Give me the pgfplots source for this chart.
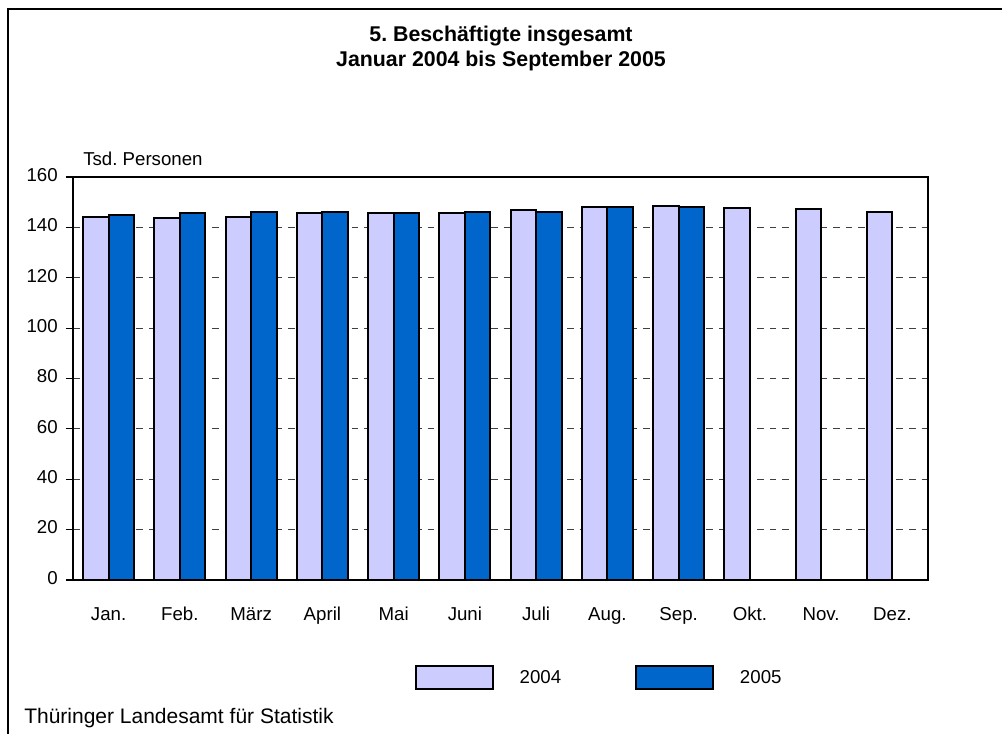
\documentclass[border=0pt]{standalone}
\usepackage{pgfplots}
\pgfplotsset{compat=1.18}
\usepackage{pgfplotstable}
\usepackage{fontspec}
\setmainfont{Liberation Sans}
\frenchspacing
\definecolor{c2004}{HTML}{CCCCFF}
\definecolor{c2005}{HTML}{0066CC}
\pgfplotstableread{
x v2004 v2005
0  144.2 144.9
1  143.6 145.6
2  144.0 146.1
3  145.7 146.0
4  145.8 145.7
5  145.7 146.0
6  147.0 146.2
7  148.2 148.1
8  148.6 147.9
}\dataA
\pgfplotstableread{
x v2004
9  147.5
10 147.3
11 146.2
}\dataB
\begin{document}
\begin{tikzpicture}[x=0.75pt,y=0.75pt]
\path[use as bounding box] (0,0) rectangle (1002,734);
\draw[line width=1pt] (8,0) -- (8,725) -- (1002,725);
\node[anchor=base,inner sep=0pt,font=\bfseries\fontsize{16}{18}\selectfont] at (501,692) {5. Beschäftigte insgesamt};
\node[anchor=base,inner sep=0pt,font=\bfseries\fontsize{16}{18}\selectfont] at (501,667) {Januar 2004 bis September 2005};
\node[anchor=base west,inner sep=0pt,font=\fontsize{15.75}{18}\selectfont] at (24,10) {Thüringer Landesamt für Statistik};
\node[anchor=base west,inner sep=0pt,font=\fontsize{14}{16}\selectfont] at (83,568) {Tsd. Personen};
\begin{axis}[
  at={(54.75pt,115.5pt)}, anchor=south west,
  width=641.25pt, height=302.25pt, scale only axis,
  xmin=-0.5, xmax=11.5, ymin=0, ymax=160,
  ytick={0,20,...,160},
  xtick={0,...,11},
  xticklabels={Jan.,Feb.,März,April,Mai,Juni,Juli,Aug.,Sep.,Okt.,Nov.,Dez.},
  x tick style={draw=none},
  ytick pos=left,
  major tick length=5.25pt,
  tick align=outside,
  y tick style={black, line width=0.8pt},
  ymajorgrids,
  major grid style={black!75, line width=0.6pt, dash pattern=on 5pt off 4.5pt},
  axis line style={line width=1.2pt},
  ticklabel style={font=\fontsize{14}{16}\selectfont},
  /pgf/number format/assume math mode=true,
  yticklabel style={inner sep=0pt, anchor=east, xshift=-6pt},
  xticklabel style={inner sep=0pt, anchor=base, yshift=-25.5pt},
  typeset ticklabels with strut=false,
  ybar, bar width=19.125pt,
  legend style={at={(0.4,-0.242)}, anchor=west, draw=none, fill=none,
    legend columns=2, inner sep=0pt, outer sep=0pt,
    nodes={inner sep=0pt, font=\fontsize{14}{16}\selectfont},
    /tikz/every odd column/.append style={column sep=19.5pt},
    /tikz/every even column/.append style={column sep=55.5pt}},
  legend image code/.code={\draw[#1, line width=1.3pt] (0pt,-8.6pt) rectangle (57.75pt,8.6pt);},
]
\addplot[fill=c2004, draw=black, line width=1.5pt, bar shift=-9.5625pt] table[x=x,y=v2004] {\dataA};
\addlegendentry{2004}
\addplot[fill=c2005, draw=black, line width=1.5pt, bar shift=9.5625pt] table[x=x,y=v2005] {\dataA};
\addlegendentry{2005}
\addplot[fill=c2004, draw=black, line width=1.5pt, bar shift=-9.5625pt, forget plot] table[x=x,y=v2004] {\dataB};
\end{axis}
\end{tikzpicture}
\end{document}
